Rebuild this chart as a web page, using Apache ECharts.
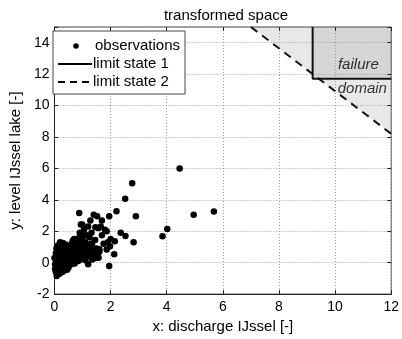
<!DOCTYPE html>
<html>
<head>
<meta charset="utf-8">
<script src="https://cdn.jsdelivr.net/npm/echarts@6/dist/echarts.min.js"></script>
<style>
  html, body { margin: 0; padding: 0; background: #fff; }
  #main { width: 402px; height: 339px; }
</style>
</head>
<body>
<div id="main"></div>
<script>
// observations (x: discharge, y: lake level)
var observations = [
  [4.46, 6.0], [2.77, 5.06], [2.52, 4.07], [2.9, 2.96], [2.21, 3.27], [4.96, 3.05], [5.68, 3.26],
  [4.02, 2.15], [3.85, 1.68], [2.82, 1.3], [1.95, 2.96], [0.88, 3.16], [1.4, 3.05], [1.52, 2.96],
  [1.69, 2.68], [1.28, 2.68], [0.99, 2.43], [0.94, 2.43], [1.57, 2.21], [1.32, 1.9], [0.94, 1.79],
  [1.86, 2.0], [1.8, 2.1], [1.46, 2.25], [2.36, 1.9], [2.53, 1.69], [2.15, 1.37], [1.98, 1.05],
  [1.86, 0.84], [2.13, 0.53], [1.95, -0.21], [1.69, 1.75], [1.25, 1.62], [1.34, 1.2], [0.9, 1.9],
  [0.88, 1.58], [0.28, 1.2], [1.57, 0.32], [1.4, 0.6], [1.6, 0.85], [1.05, 2.1], [1.15, 1.75],
  [1.9, 1.3], [2.0, 1.5], [1.75, 1.2], [1.45, 1.45], [1.1, 1.3], [1.2, 2.3], [1.65, 2.3], [1.0, 1.6],
  [0.05, -0.6], [0.1, -0.75], [0.15, -0.5], [0.08, -0.3], [0.02, -0.1], [0.12, 0.0], [0.05, 0.2],
  [0.2, 0.1], [0.18, -0.2], [0.25, -0.4], [0.3, -0.1], [0.22, 0.3], [0.1, 0.45], [0.3, 0.5],
  [0.35, 0.2], [0.4, -0.2], [0.45, 0.1], [0.5, 0.4], [0.38, 0.7], [0.28, 0.9], [0.2, 1.3],
  [0.3, 1.25], [0.15, 0.8], [0.55, 0.75], [0.6, 0.3], [0.65, 0.0], [0.5, -0.3], [0.7, 0.55],
  [0.75, 0.9], [0.8, 0.35], [0.85, 0.7], [0.9, 1.1], [0.95, 0.5], [1.0, 0.8], [0.62, 1.2],
  [0.7, 1.5], [0.8, 1.3], [0.05, 0.6], [0.0, 0.3], [0.02, -0.4], [0.12, -0.15], [0.25, 0.6],
  [0.35, -0.3], [0.42, 0.45], [0.48, 0.85], [0.55, 1.05], [0.6, -0.1], [0.9, 0.2], [1.05, 0.3],
  [1.1, 0.6], [1.15, 0.95], [1.2, 0.4], [1.25, 0.75], [1.3, 1.2], [1.35, 0.2], [1.4, 0.55],
  [1.5, 0.9], [1.55, 0.35], [1.6, 0.7], [1.2, -0.1], [0.1, 0.1], [0.15, 0.3], [0.2, -0.05],
  [0.25, 0.15], [0.3, 0.3], [0.35, 0.6], [0.4, 0.1], [0.45, 0.35], [0.5, 0.6], [0.55, 0.2],
  [0.6, 0.55], [0.65, 0.8], [0.7, 0.2], [0.75, 0.5], [0.8, 0.65], [0.85, 0.1], [0.9, 0.45],
  [0.95, 0.95], [1.0, 0.45], [1.05, 1.05], [0.07, 0.9], [0.12, 1.1], [0.18, 0.55], [0.32, 1.0],
  [0.4, 1.15], [0.45, -0.45], [0.28, -0.6], [0.18, -0.7], [0.08, -0.85], [0.65, 1.4], [0.85, 1.5],
  [0.75, 1.1], [0.58, 0.0], [0.72, -0.05], [1.1, 0.15], [1.25, 0.5], [1.3, 0.85], [1.45, 0.3],
  [0.95, 1.25], [0.35, -0.5]
];
// limit states
var limitState1 = [[9.2, 15], [9.2, 11.7], [12, 11.7]];
var limitState2 = [[7, 15], [12, 8.2]];
// failure domains (shaded)
var domain2 = [[7, 15], [12, 15], [12, 8.2]];
var domain1 = [[9.2, 15], [12, 15], [12, 11.7], [9.2, 11.7]];
var domainLabels = [[10.83, 12.6, 'failure'], [10.97, 11.08, 'domain']];

var chart = echarts.init(document.getElementById('main'));
var font = '"Liberation Sans", Arial, sans-serif';

function polygonSeries(poly, color) {
  return {
    type: 'custom',
    z: -1,
    silent: true,
    data: [0],
    renderItem: function (params, api) {
      return {
        type: 'polygon',
        shape: { points: poly.map(function (p) { return api.coord(p); }) },
        style: { fill: color }
      };
    }
  };
}

var option = {
  animation: false,
  backgroundColor: '#fff',
  textStyle: { fontFamily: font },
  title: {
    text: 'transformed space',
    left: 221,
    top: 3,
    textAlign: 'center',
    textStyle: { fontSize: 15, fontWeight: 'normal', color: '#000', fontFamily: font }
  },
  grid: {
    left: 48, right: 8, top: 27, bottom: 43,
    show: true, borderColor: '#444', borderWidth: 1
  },
  xAxis: [{
    type: 'value', min: 0, max: 12, interval: 2,
    name: 'x: discharge IJssel [-]', nameLocation: 'middle', nameGap: 22,
    nameTextStyle: { fontSize: 15, color: '#000' },
    axisLine: { onZero: false, lineStyle: { color: '#222' } },
    axisTick: { inside: true, length: 4, lineStyle: { color: '#222' } },
    axisLabel: { fontSize: 14, color: '#000', margin: 6 },
    splitLine: { lineStyle: { type: [1, 2], color: '#999' } }
  }, {
    type: 'value', min: 0, max: 12, interval: 2, position: 'top',
    axisLine: { show: false, onZero: false },
    axisTick: { inside: true, length: 4, lineStyle: { color: '#222' } },
    axisLabel: { show: false },
    splitLine: { show: false }
  }],
  yAxis: [{
    type: 'value', min: -2, max: 15, interval: 2,
    name: 'y: level IJssel lake [-]', nameLocation: 'middle', nameGap: 26,
    nameTextStyle: { fontSize: 15, color: '#000' },
    axisLine: { show: true, onZero: false, lineStyle: { color: '#222' } },
    axisTick: { show: true, inside: true, length: 4, lineStyle: { color: '#222' } },
    axisLabel: {
      fontSize: 14, color: '#000', margin: 5,
      formatter: function (v) { return v === 15 ? '' : String(v); }
    },
    splitLine: { lineStyle: { type: [1, 2], color: '#999' } }
  }, {
    type: 'value', min: -2, max: 15, interval: 2, position: 'right',
    axisLine: { show: false, onZero: false },
    axisTick: { show: true, inside: true, length: 4, lineStyle: { color: '#222' } },
    axisLabel: { show: false },
    splitLine: { show: false }
  }],
  series: [
    polygonSeries(domain2, '#e8e8e8'),
    polygonSeries(domain1, '#d6d6d6'),
    {
      name: 'observations',
      type: 'scatter',
      symbol: 'circle',
      symbolSize: 6.5,
      itemStyle: { color: '#000', opacity: 1 },
      data: observations
    },
    {
      name: 'limit state 1',
      type: 'line',
      showSymbol: false,
      lineStyle: { color: '#111', width: 2 },
      data: limitState1
    },
    {
      name: 'limit state 2',
      type: 'line',
      showSymbol: false,
      lineStyle: { color: '#111', width: 2, type: [8, 6] },
      data: limitState2
    },
    {
      type: 'scatter',
      symbolSize: 0,
      silent: true,
      data: domainLabels.map(function (d) { return { value: [d[0], d[1]], name: d[2] }; }),
      label: {
        show: true, position: 'inside',
        formatter: '{b}',
        fontSize: 15, fontStyle: 'italic', color: '#000', fontFamily: font
      }
    }
  ],
  graphic: [
    { type: 'rect', shape: { x: 53, y: 31, width: 132, height: 63 },
      style: { fill: '#fff', stroke: '#444', lineWidth: 1 }, z: 100 },
    { type: 'circle', shape: { cx: 76, cy: 46, r: 2.8 }, style: { fill: '#000' }, z: 101 },
    { type: 'line', shape: { x1: 58, y1: 64, x2: 92, y2: 64 },
      style: { stroke: '#000', lineWidth: 2 }, z: 101 },
    { type: 'line', shape: { x1: 58, y1: 82, x2: 92, y2: 82 },
      style: { stroke: '#000', lineWidth: 2, lineDash: [7, 5] }, z: 101 },
    { type: 'text', left: 95, top: 38, z: 101,
      style: { text: 'observations', fontSize: 15, fill: '#000', font: '15px ' + font } },
    { type: 'text', left: 93, top: 56, z: 101,
      style: { text: 'limit state 1', fontSize: 15, fill: '#000', font: '15px ' + font } },
    { type: 'text', left: 93, top: 74, z: 101,
      style: { text: 'limit state 2', fontSize: 15, fill: '#000', font: '15px ' + font } }
  ]
};
chart.setOption(option);
</script>
</body>
</html>
